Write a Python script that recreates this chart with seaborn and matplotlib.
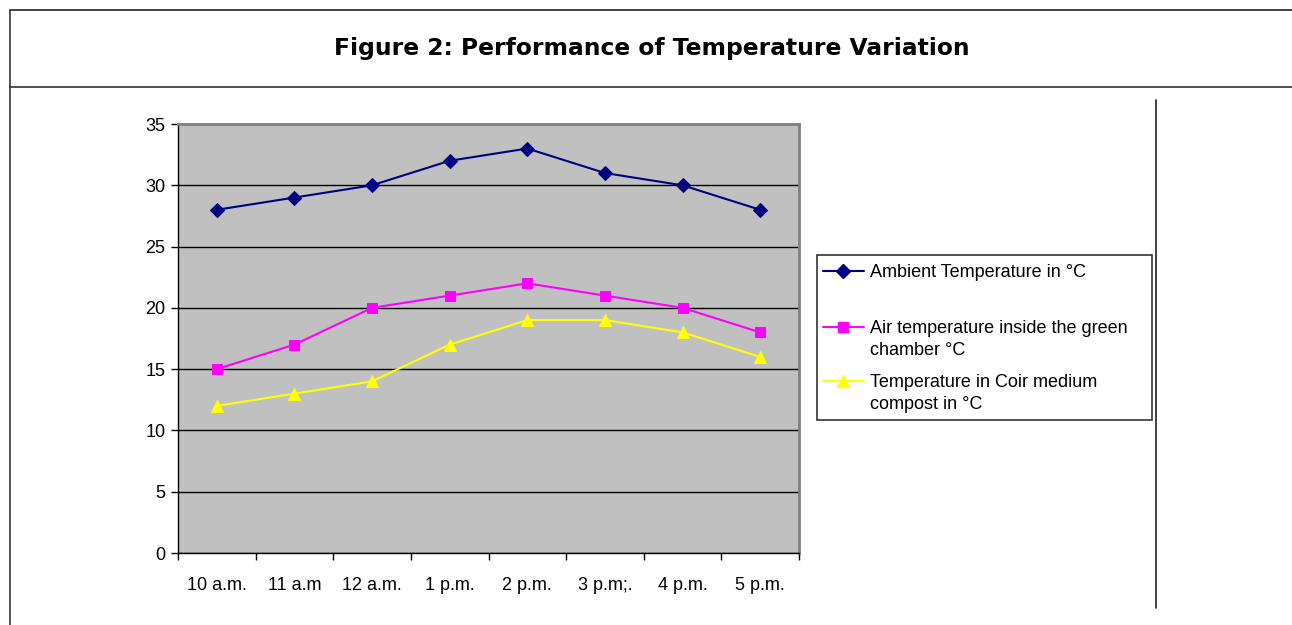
import matplotlib
matplotlib.use("Agg")
import matplotlib.pyplot as plt
from matplotlib.lines import Line2D
from matplotlib.patches import Rectangle
import seaborn as sns
import pandas as pd
import numpy as np

times = ["10 a.m.", "11 a.m", "12 a.m.", "1 p.m.", "2 p.m.", "3 p.m;.", "4 p.m.", "5 p.m."]
ambient = [28, 29, 30, 32, 33, 31, 30, 28]
air_chamber = [15, 17, 20, 21, 22, 21, 20, 18]
coir_compost = [12, 13, 14, 17, 19, 19, 18, 16]
series_labels = ["Ambient Temperature in °C",
                 "Air temperature inside the green\nchamber °C",
                 "Temperature in Coir medium\ncompost in °C"]
title = "Figure 2: Performance of Temperature Variation"

sns.set_theme(style="white")
plt.rcParams['font.family'] = ['Liberation Sans', 'DejaVu Sans']
plt.rcParams['text.color'] = 'black'
plt.rcParams['xtick.color'] = 'black'
plt.rcParams['ytick.color'] = 'black'
plt.rcParams['xtick.labelcolor'] = 'black'
plt.rcParams['ytick.labelcolor'] = 'black'

W, H = 1292, 625
fig = plt.figure(figsize=(W / 100, H / 100), dpi=100)

def fx(px):
    return px / W

def fy(py):
    return 1 - py / H

ax = fig.add_axes([fx(178), fy(553), fx(799) - fx(178), fy(124) - fy(553)])
ax.set_facecolor("#C0C0C0")

pos = np.arange(len(times))
df = pd.DataFrame({"pos": pos, "ambient": ambient, "air": air_chamber, "coir": coir_compost})

styles = [("ambient", "#000080", "D", 7),
          ("air", "#FF00FF", "s", 7),
          ("coir", "#FFFF00", "^", 8)]
for col, color, marker, ms in styles:
    sns.lineplot(data=df, x="pos", y=col, ax=ax, color=color, marker=marker,
                 markersize=ms, markeredgecolor=color, linewidth=1.5, sort=False,
                 zorder=3)

ax.set_xlim(-0.5, len(times) - 0.5)
ax.set_ylim(0, 35)
ax.set_yticks(np.arange(0, 36, 5))
ax.set_yticklabels([str(v) for v in range(0, 36, 5)], fontsize=13, color="black")
ax.yaxis.grid(True, color="#000000", linewidth=1.0)
ax.set_axisbelow(True)
ax.set_xlabel("")
ax.set_ylabel("")

# category labels between tick marks
ax.set_xticks(np.arange(-0.5, len(times), 1.0))
ax.set_xticklabels([])
ax.set_xticks(pos, minor=True)
ax.set_xticklabels(times, minor=True, fontsize=13, color="black")
ax.tick_params(axis="x", which="minor", length=0, pad=17)
ax.tick_params(axis="x", which="major", direction="out", length=5, width=1, color="black", bottom=True)
ax.tick_params(axis="y", direction="out", length=5, width=1, color="black", left=True, pad=4)

for side in ["left", "bottom"]:
    ax.spines[side].set_color("black")
    ax.spines[side].set_linewidth(1.0)
for side in ["top", "right"]:
    ax.spines[side].set_color("#808080")
    ax.spines[side].set_linewidth(2.0)

# Title box frame
fig.add_artist(Line2D([fx(10), 1], [fy(10), fy(10)], color="#222222", lw=1.2, transform=fig.transFigure))
fig.add_artist(Line2D([fx(10), 1], [fy(87), fy(87)], color="#333333", lw=1.2, transform=fig.transFigure))
fig.add_artist(Line2D([fx(10), fx(10)], [fy(10), 0], color="#333333", lw=1.2, transform=fig.transFigure))
fig.add_artist(Line2D([fx(1156), fx(1156)], [fy(100), fy(608)], color="#222222", lw=1.2, transform=fig.transFigure))
fig.text(fx(652), fy(48), title, ha="center", va="center", fontsize=16.8,
         fontweight="bold", family=["DejaVu Sans"], color="black")

# Legend (manual, to match first-line alignment)
fig.add_artist(Rectangle((fx(817), fy(420)), fx(1152) - fx(817), fy(255) - fy(420),
                         transform=fig.transFigure, facecolor="white",
                         edgecolor="#333333", lw=1.2))
rows = [271, 327, 381]
for (col, color, marker, ms), label, ry in zip(styles, series_labels, rows):
    fig.add_artist(Line2D([fx(823), fx(864)], [fy(ry), fy(ry)], color=color, lw=1.5,
                          transform=fig.transFigure))
    fig.add_artist(Line2D([fx(843)], [fy(ry)], color=color, marker=marker, markersize=ms,
                          markeredgecolor=color, transform=fig.transFigure))
    fig.text(fx(870), fy(ry - 7), label, ha="left", va="top", fontsize=13,
             linespacing=1.4, color="black")

fig.savefig("out.png", dpi=100)
